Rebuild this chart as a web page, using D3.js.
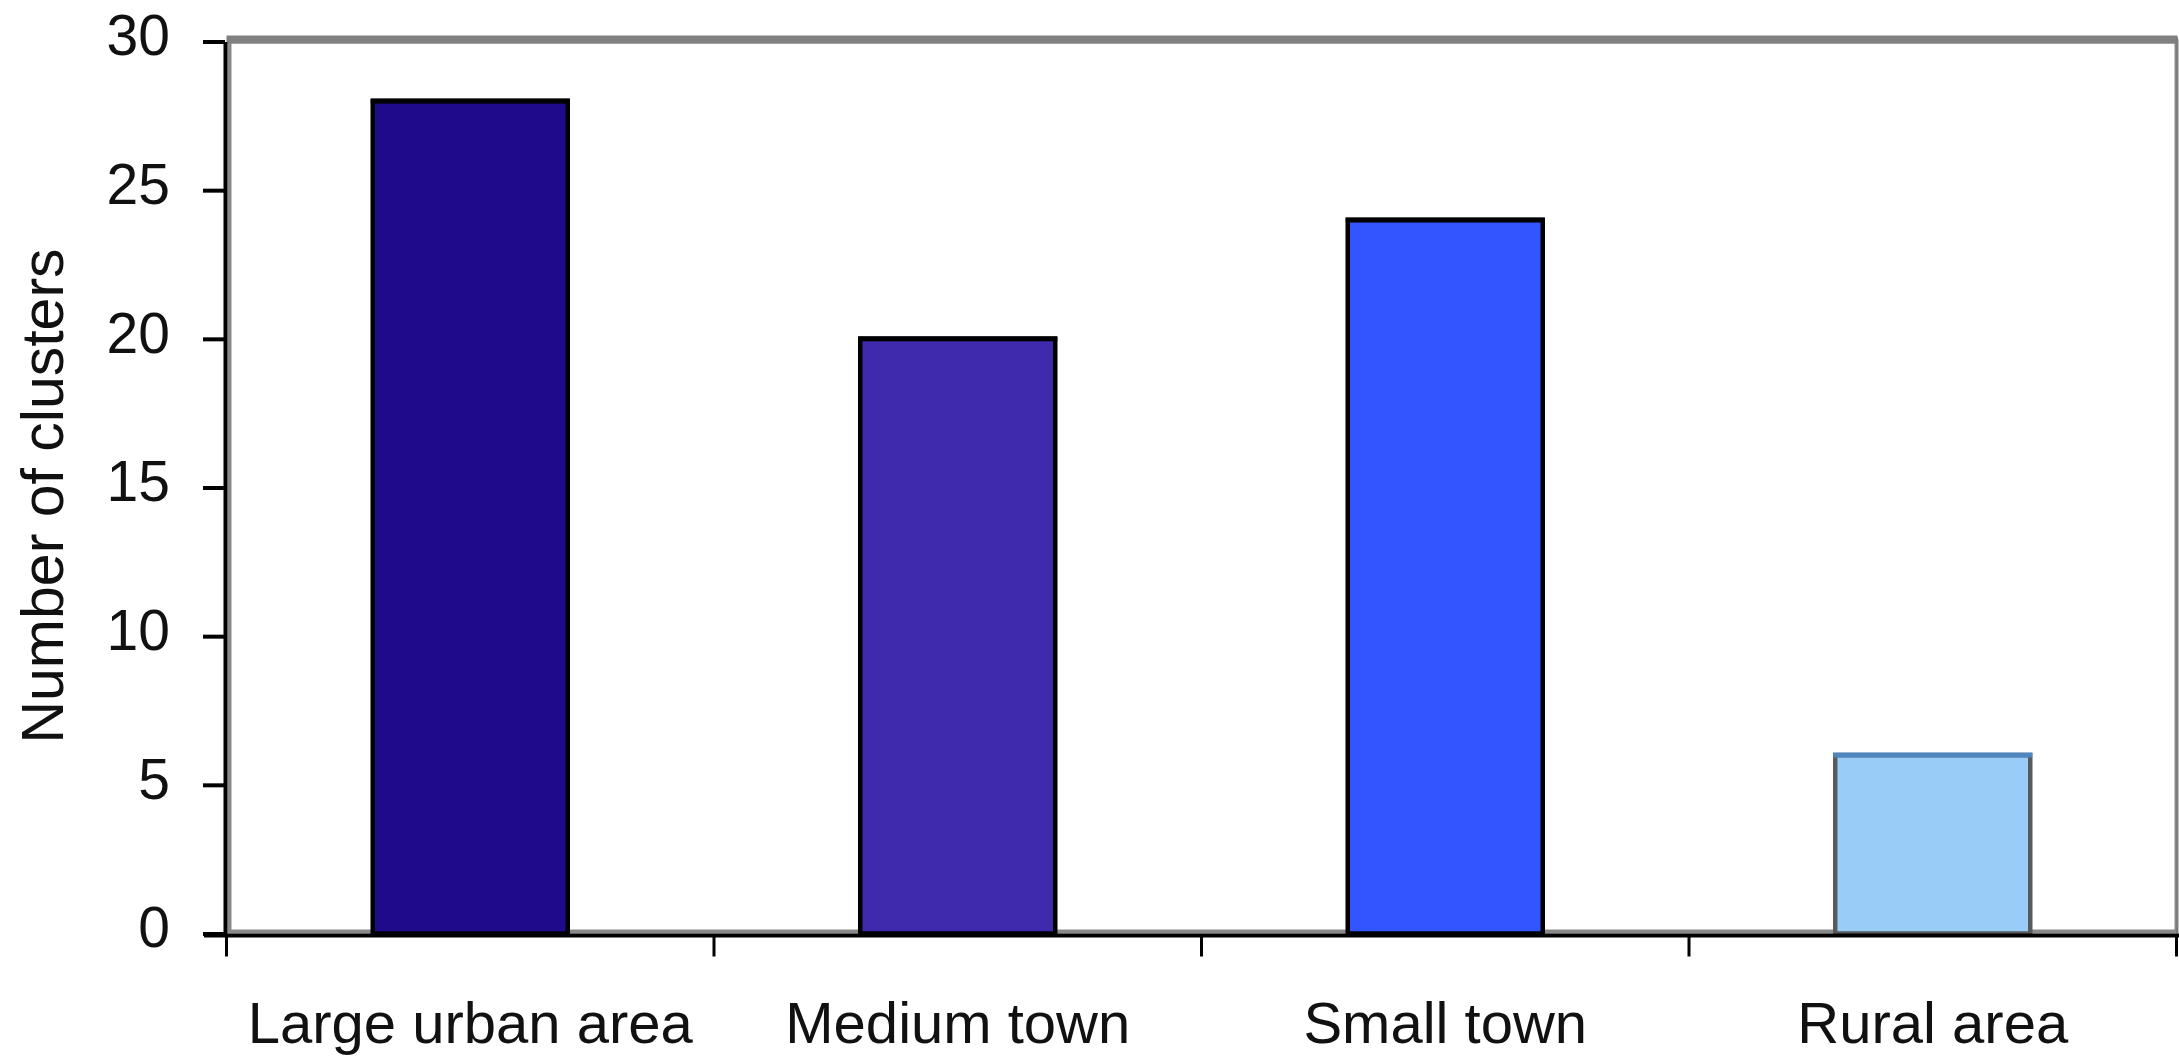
<!DOCTYPE html>
<html>
<head>
<meta charset="utf-8">
<script src="https://cdn.jsdelivr.net/npm/d3@7"></script>
<style>
  html, body { margin: 0; padding: 0; background: #fff; }
  svg { display: block; }
  text { font-family: "Liberation Sans", Arial, sans-serif; fill: #111; }
</style>
</head>
<body>
<svg id="chart" width="2179" height="1057"></svg>
<script>
const categories = ["Large urban area", "Medium town", "Small town", "Rural area"];
const values = [28, 20, 24, 6];
const yTicks = [0, 5, 10, 15, 20, 25, 30];
const yTitle = "Number of clusters";
const barFills = ["#200a8c", "#3f2aae", "#3355ff", "#99ccf6"];
const barStrokes = ["#000", "#000", "#000", "#5a5a5a"];
const barTopStrokes = ["#000", "#000", "#000", "#4f86bd"];

(function () {
const svg = d3.select("#chart");
const W = 2179, H = 1057;
const pLeft = 226.5, pRight = 2176.5, pTop = 41.5, pBottom = 933.5;

const x = d3.scaleBand().domain(categories).range([pLeft, pRight]).paddingInner(0.6).paddingOuter(0.3);
const y = d3.scaleLinear().domain([0, 30]).range([pBottom, pTop]);

svg.append("rect").attr("width", W).attr("height", H).attr("fill", "#fff");

// plot area border (grey)
svg.append("rect")
  .attr("x", pLeft + 3).attr("y", pTop)
  .attr("width", pRight - pLeft - 3).attr("height", pBottom - pTop - 2)
  .attr("fill", "none").attr("stroke", "#8a8a8a").attr("stroke-width", 4);
svg.append("line")
  .attr("x1", pLeft).attr("x2", pRight + 1)
  .attr("y1", pTop - 2).attr("y2", pTop - 2)
  .attr("stroke", "#808080").attr("stroke-width", 8);
svg.append("line")
  .attr("x1", pRight + 0.5).attr("x2", pRight + 0.5)
  .attr("y1", pTop - 4).attr("y2", pBottom)
  .attr("stroke", "#7a7a7a").attr("stroke-width", 2);

// bars
const bars = svg.append("g");
categories.forEach((c, i) => {
  bars.append("rect")
    .attr("x", x(c)).attr("y", y(values[i]))
    .attr("width", x.bandwidth()).attr("height", y(0) - y(values[i]))
    .attr("fill", barFills[i]).attr("stroke", barStrokes[i]).attr("stroke-width", 4.5);
  bars.append("line")
    .attr("x1", x(c) - 2).attr("x2", x(c) + x.bandwidth() + 2)
    .attr("y1", y(values[i])).attr("y2", y(values[i]))
    .attr("stroke", barTopStrokes[i]).attr("stroke-width", 5);
});

// y axis
const yAxis = svg.append("g")
  .attr("transform", `translate(${pLeft - 1.5},0)`)
  .call(d3.axisLeft(y).tickValues(yTicks).tickSize(22).tickPadding(33).tickSizeOuter(0));
yAxis.select(".domain").attr("stroke", "#000").attr("stroke-width", 4);
yAxis.selectAll(".tick line").attr("stroke", "#000").attr("stroke-width", 4);
yAxis.selectAll(".tick text")
  .attr("y", -5)
  .style("font-size", "57px").style("font-family", "'Liberation Sans', Arial, sans-serif").attr("fill", "#111");

// x axis
const xAxis = svg.append("g")
  .attr("transform", `translate(0,${pBottom + 2})`)
  .call(d3.axisBottom(x).tickSize(0).tickPadding(66));
xAxis.select(".domain").remove();
xAxis.append("line").attr("x1", 204).attr("x2", W).attr("y1", 0).attr("y2", 0)
  .attr("stroke", "#000").attr("stroke-width", 4);
xAxis.selectAll(".tick text")
  .style("font-size", "58px").style("font-family", "'Liberation Sans', Arial, sans-serif").attr("fill", "#111");
// category boundary ticks
const boundaries = categories.map(c => x(c) - x.step() * x.paddingInner() / 2).concat([pRight]);
xAxis.selectAll(".bt").data(boundaries).enter().append("line")
  .attr("class", "bt")
  .attr("x1", d => d).attr("x2", d => d).attr("y1", 0).attr("y2", 21)
  .attr("stroke", "#000").attr("stroke-width", 3);

// y title
svg.append("text")
  .attr("transform", "translate(63,496) rotate(-90)")
  .attr("text-anchor", "middle")
  .style("font-size", "59px")
  .text(yTitle);
})();
</script>
</body>
</html>
